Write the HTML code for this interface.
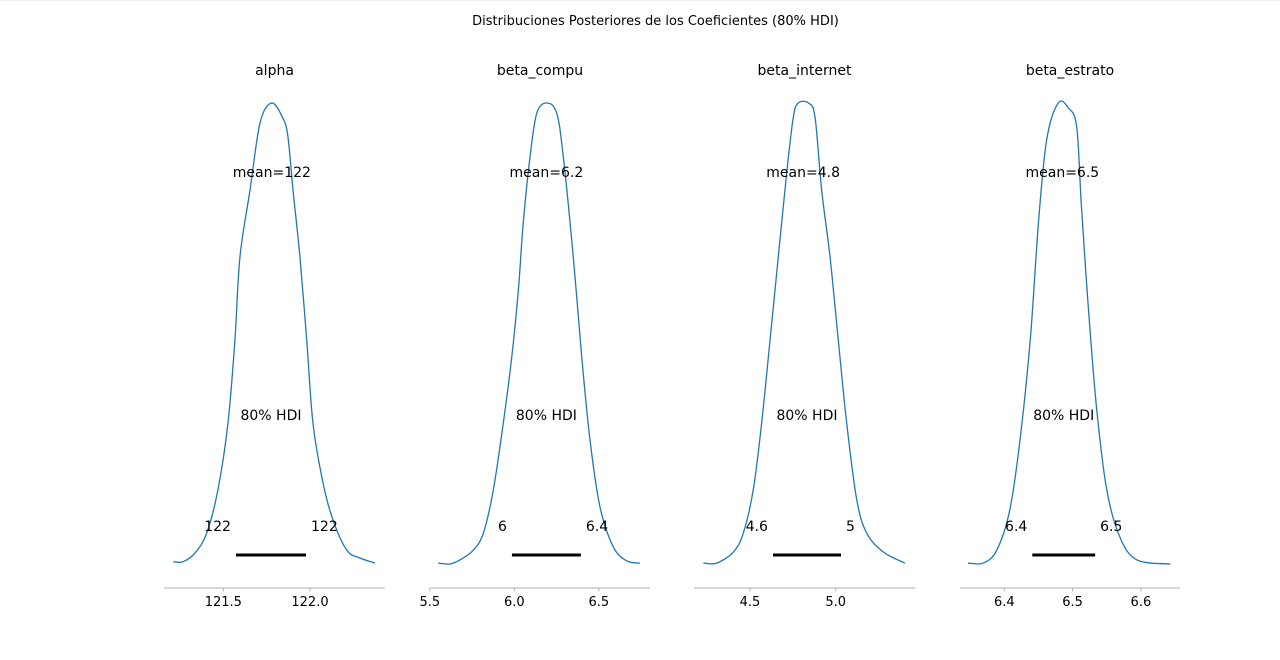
<!DOCTYPE html>
<html><head><meta charset="utf-8">
<style>
html,body{margin:0;padding:0;background:#fff;}
svg{display:block;font-family:"DejaVu Sans","Liberation Sans",sans-serif;}
</style></head>
<body>
<svg id="chart" width="1280" height="660" viewBox="0 0 1280 660">
<rect x="0" y="0" width="1280" height="660" fill="#fff"/>
<line x1="0" y1="0.5" x2="1280" y2="0.5" stroke="#eee"/>
<text x="655.5" y="25" font-size="13" text-anchor="middle" fill="#000">Distribuciones Posteriores de los Coeficientes (80% HDI)</text>
</svg>
<script>
const titles = ["alpha", "beta_compu", "beta_internet", "beta_estrato"];
const meanLabels = ["mean=122", "mean=6.2", "mean=4.8", "mean=6.5"];
const meanValues = [121.78, 6.19, 4.81, 6.485];
const hdiLow = [121.573, 5.986, 4.634, 6.441];
const hdiHigh = [121.977, 6.394, 5.031, 6.533];
const hdiLowLabels = ["122", "6", "4.6", "6.4"];
const hdiHighLabels = ["122", "6.4", "5", "6.5"];
const xs0 = [121.212,121.268,121.337,121.404,121.469,121.527,121.567,121.596,121.654,121.712,121.779,121.844,121.873,121.902,121.942,121.981,122.017,122.075,122.133,122.212,122.288,122.375];
const ds0 = [0.005,0.005,0.024,0.067,0.161,0.306,0.486,0.666,0.811,0.957,1,0.967,0.926,0.811,0.666,0.486,0.306,0.176,0.095,0.030,0.013,0.002];
const xs1 = [5.550,5.620,5.679,5.757,5.817,5.876,5.935,5.985,6.024,6.053,6.093,6.133,6.192,6.251,6.290,6.349,6.399,6.448,6.507,6.586,6.665,6.743];
const ds1 = [0.002,0,0.009,0.030,0.067,0.161,0.306,0.449,0.594,0.740,0.883,0.978,1,0.978,0.883,0.666,0.449,0.269,0.124,0.037,0.007,0.002];
const xs2 = [4.228,4.306,4.403,4.461,4.519,4.568,4.617,4.665,4.714,4.753,4.782,4.840,4.879,4.918,4.967,5.015,5.064,5.123,5.181,5.278,5.404];
const ds2 = [0.002,0.002,0.026,0.067,0.161,0.306,0.486,0.666,0.848,0.970,1,1,0.970,0.811,0.666,0.486,0.306,0.139,0.067,0.026,0.002];
const xs3 = [6.347,6.369,6.389,6.408,6.423,6.438,6.450,6.462,6.479,6.494,6.506,6.513,6.523,6.535,6.550,6.569,6.594,6.643];
const ds3 = [0.002,0.002,0.030,0.117,0.269,0.486,0.740,0.920,1,0.989,0.948,0.774,0.557,0.340,0.161,0.059,0.009,0];
const tickVals0 = [121.5, 122.0];
const tickVals1 = [5.5, 6.0, 6.5];
const tickVals2 = [4.5, 5.0];
const tickVals3 = [6.4, 6.5, 6.6];
const tickLabels0 = ["121.5", "122.0"];
const tickLabels1 = ["5.5", "6.0", "6.5"];
const tickLabels2 = ["4.5", "5.0"];
const tickLabels3 = ["6.4", "6.5", "6.6"];

const XS=[xs0,xs1,xs2,xs3], DS=[ds0,ds1,ds2,ds3];
const TV=[tickVals0,tickVals1,tickVals2,tickVals3], TL=[tickLabels0,tickLabels1,tickLabels2,tickLabels3];
const axes=[[164,385,121.5,223.3,173.4],[430,650,6.0,514.3,169],[694,915,4.5,750,171.4],[960,1180,6.4,1004.3,683]];
const svg=document.getElementById('chart');
const NS='http://www.w3.org/2000/svg';
const baseY=564, peakY=103, axisY=588;
function mk(tag,attrs,parent){const e=document.createElementNS(NS,tag);for(const k in attrs)e.setAttribute(k,attrs[k]);(parent||svg).appendChild(e);return e;}
function smooth(pts){
  let d='M'+pts[0][0].toFixed(2)+','+pts[0][1].toFixed(2);
  for(let i=0;i<pts.length-1;i++){
    const p0=pts[Math.max(0,i-1)],p1=pts[i],p2=pts[i+1],p3=pts[Math.min(pts.length-1,i+2)];
    const c1=[p1[0]+(p2[0]-p0[0])/6,p1[1]+(p2[1]-p0[1])/6];
    const c2=[p2[0]-(p3[0]-p1[0])/6,p2[1]-(p3[1]-p1[1])/6];
    d+=' C'+c1[0].toFixed(2)+','+c1[1].toFixed(2)+' '+c2[0].toFixed(2)+','+c2[1].toFixed(2)+' '+p2[0].toFixed(2)+','+p2[1].toFixed(2);
  }
  return d;
}
for(let p=0;p<4;p++){
  const a=axes[p];
  const xScale=v=>a[3]+(v-a[2])*a[4];
  const maxD=Math.max(...DS[p]);
  const yScale=d=>baseY-(d/maxD)*(baseY-peakY);
  const g=mk('g',{});
  
  
  const cx=(a[0]+a[1])/2;
  const t=mk('text',{x:cx,y:75,'font-size':14,'text-anchor':'middle'},g);t.textContent=titles[p];
  
  
  const ax=mk('line',{x1:a[0],x2:a[1],y1:axisY,y2:axisY,stroke:'#b0b0b0','stroke-width':1},g);
  
  
  TV[p].forEach((v,i)=>{
    const tk=mk('line',{x1:xScale(v),x2:xScale(v),y1:axisY,y2:axisY+3.5,stroke:'#b0b0b0'},g);
    
    
    const tl=mk('text',{x:xScale(v),y:606,'font-size':13,'text-anchor':'middle'},g);tl.textContent=TL[p][i];
    
    
  });
  const pts=XS[p].map((v,i)=>[xScale(v),yScale(DS[p][i])]);
  const path=mk('path',{d:smooth(pts),fill:'none',stroke:'#1f77b4','stroke-width':1.3,'stroke-linejoin':'round'},g);
  
  
  const x1=xScale(hdiLow[p]),x2=xScale(hdiHigh[p]);
  const bar=mk('line',{x1:x1,x2:x2,y1:555,y2:555,stroke:'#000','stroke-width':3},g);
  
  
  const ml=mk('text',{x:xScale(meanValues[p]),y:177,'font-size':14,'text-anchor':'middle'},g);ml.textContent=meanLabels[p];
  
  
  const hl=mk('text',{x:(x1+x2)/2,y:420,'font-size':14,'text-anchor':'middle'},g);hl.textContent='80% HDI';
  
  
  const ll=mk('text',{x:x1-5,y:531,'font-size':14,'text-anchor':'end'},g);ll.textContent=hdiLowLabels[p];
  
  
  const rl=mk('text',{x:x2+5,y:531,'font-size':14,'text-anchor':'start'},g);rl.textContent=hdiHighLabels[p];
  
  
}
</script>
</body></html>
